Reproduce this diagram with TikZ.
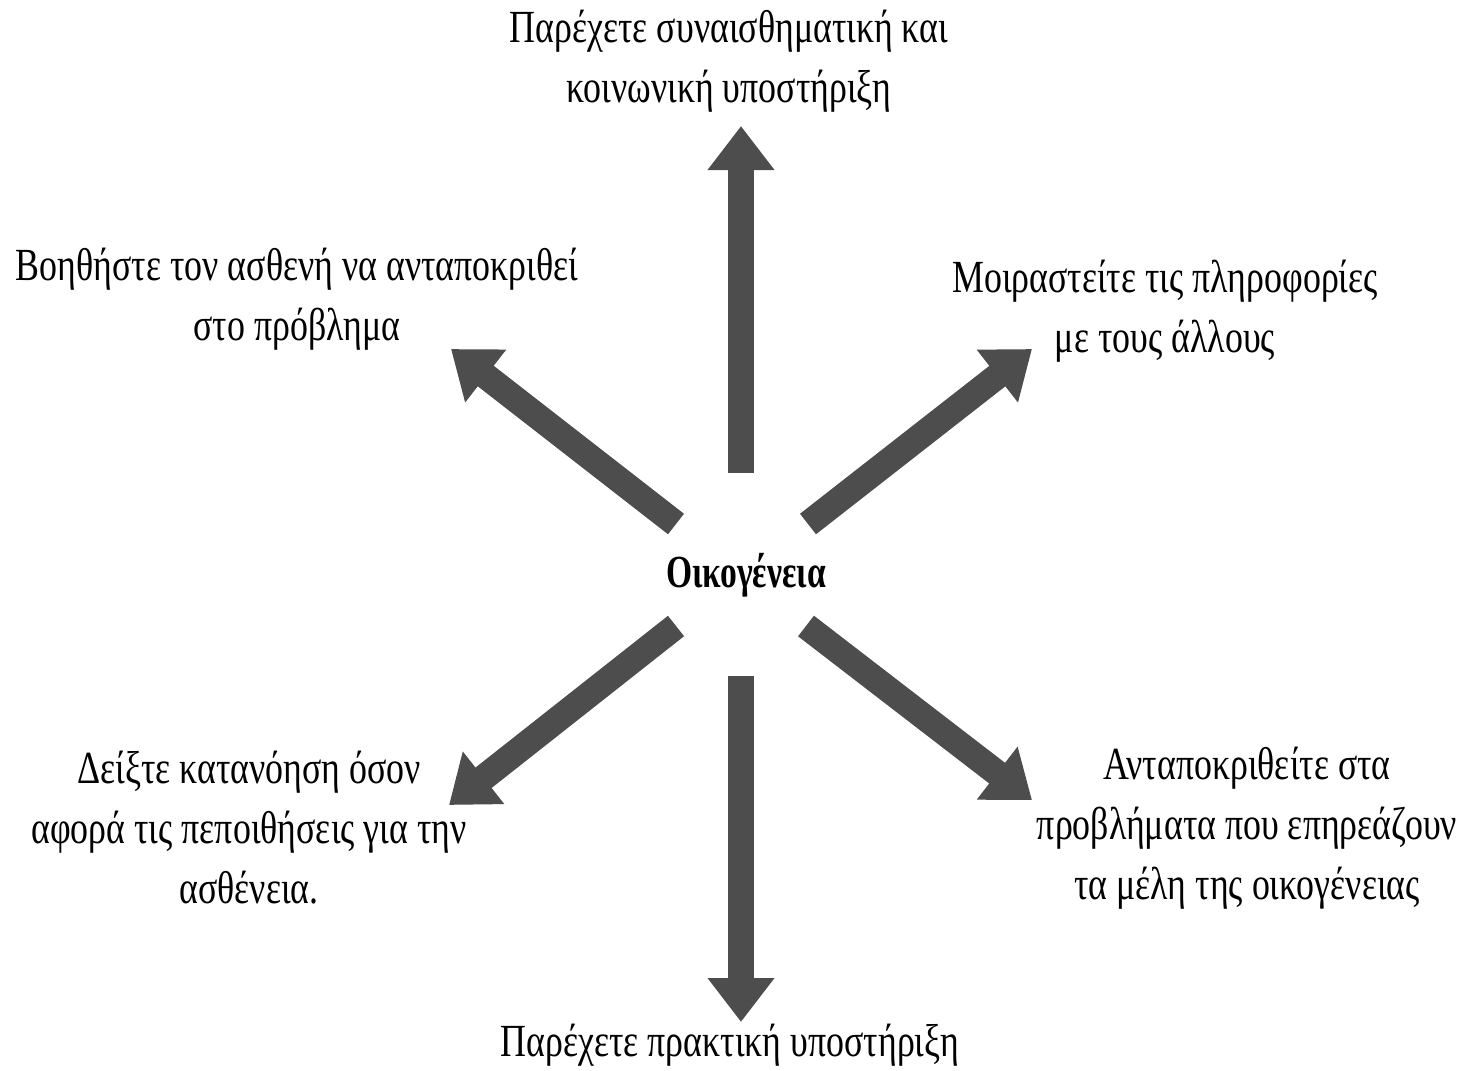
\documentclass[tikz,border=0pt]{standalone}
\usepackage{fontspec}
\setmainfont{Liberation Serif}[FakeStretch=0.78, BoldFeatures={FakeStretch=0.73}]
\usetikzlibrary{arrows.meta}
\definecolor{arrowgray}{HTML}{4D4D4D}
\begin{document}
\begin{tikzpicture}[x=0.5pt,y=-0.5pt,
  lbl/.style={align=center, font=\fontsize{23}{30}\selectfont, inner sep=0pt},
  bigarrow/.style={draw=arrowgray, line width=13pt, -{Triangle[width=32pt,length=22pt]}}]
\useasboundingbox (0,0) rectangle (1484,1071);
% center
\node[lbl, font=\fontsize{23}{30}\selectfont\bfseries] (fam) at (746,575) {Οικογένεια};
% labels
\node[lbl] (top) at (729,61) {Παρέχετε συναισθηματική και\\κοινωνική υποστήριξη};
\node[lbl] (ul) at (297,299) {Βοηθήστε τον ασθενή να ανταποκριθεί\\στο πρόβλημα};
\node[lbl] (ur) at (1165,311) {Μοιραστείτε τις πληροφορίες\\με τους άλλους};
\node[lbl] (ll) at (249,828) {Δείξτε κατανόηση όσον\\αφορά τις πεποιθήσεις για την\\ασθένεια.};
\node[lbl] (lr) at (1247,828) {Ανταποκριθείτε στα\\προβλήματα που επηρεάζουν\\τα μέλη της οικογένειας};
\node[lbl] (bot) at (730,1045) {Παρέχετε πρακτική υποστήριξη};
% arrow ends
\coordinate (tU0) at (741,473);   \coordinate (hU) at (741,126);
\coordinate (tD0) at (741,676);   \coordinate (hD) at (741,1022);
\coordinate (tUL) at (676,524);   \coordinate (hUL) at (451,349);
\coordinate (tUR) at (808,524);   \coordinate (hUR) at (1032,349);
\coordinate (tLL) at (676,626);   \coordinate (hLL) at (449,805);
\coordinate (tLR) at (806,626);   \coordinate (hLR) at (1032,800);
\draw[bigarrow] (tU0) -- (hU);
\draw[bigarrow] (tD0) -- (hD);
\draw[bigarrow] (tUL) -- (hUL);
\draw[bigarrow] (tUR) -- (hUR);
\draw[bigarrow] (tLL) -- (hLL);
\draw[bigarrow] (tLR) -- (hLR);
\end{tikzpicture}
\end{document}
